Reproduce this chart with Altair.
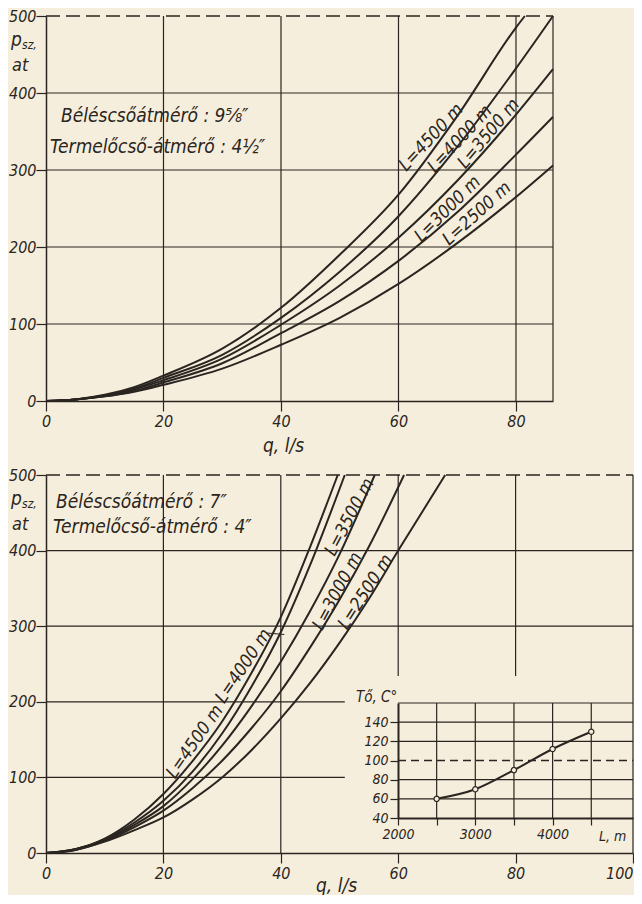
import altair as alt
import pandas as pd

FONT = "Liberation Sans Narrow, Arial Narrow, DejaVu Sans Condensed, sans-serif"
INK = "#2a2520"
BG = "#f6eedc"

curve_names = ["L=4500 m", "L=4000 m", "L=3500 m", "L=3000 m", "L=2500 m"]

# ---------- upper panel: casing 9 5/8", tubing 4 1/2"  (q [l/s] -> p_sz [at])
top_q_4500 = [0, 5, 10, 15, 20, 30, 40, 50, 60, 70, 80, 81.5]
top_p_4500 = [0, 2, 8, 18, 33, 68, 121, 190, 268, 370, 485, 500]
top_q_4000 = [0, 5, 10, 15, 20, 30, 40, 50, 60, 70, 80, 86.3]
top_p_4000 = [0, 2, 7, 16, 30, 60, 108, 168, 240, 330, 432, 500]
top_q_3500 = [0, 5, 10, 15, 20, 30, 40, 50, 60, 70, 80, 86.3]
top_p_3500 = [0, 2, 7, 15, 27, 55, 99, 150, 212, 286, 372, 431]
top_q_3000 = [0, 5, 10, 15, 20, 30, 40, 50, 60, 70, 80, 86.3]
top_p_3000 = [0, 2, 6, 13, 24, 49, 88, 130, 182, 245, 320, 369]
top_q_2500 = [0, 5, 10, 15, 20, 30, 40, 50, 60, 70, 80, 86.3]
top_p_2500 = [0, 2, 6, 12, 21, 42, 73, 108, 152, 205, 265, 306]

# ---------- lower panel: casing 7", tubing 4"
bot_q_4500 = [0, 5, 10, 15, 20, 25, 30, 35, 40, 45, 49.7]
bot_p_4500 = [0, 5, 19, 44, 78, 122, 174, 238, 312, 405, 500]
bot_q_4000 = [0, 5, 10, 15, 20, 25, 30, 35, 40, 45, 50.9]
bot_p_4000 = [0, 5, 18, 40, 69, 108, 158, 220, 292, 381, 500]
bot_q_3500 = [0, 5, 10, 15, 20, 25, 30, 35, 40, 45, 50, 56]
bot_p_3500 = [0, 5, 17, 37, 62, 98, 142, 194, 253, 320, 395, 500]
bot_q_3000 = [0, 5, 10, 15, 20, 25, 30, 35, 40, 45, 50, 55, 61]
bot_p_3000 = [0, 4, 16, 34, 56, 86, 122, 165, 214, 272, 335, 405, 500]
bot_q_2500 = [0, 5, 10, 15, 20, 25, 30, 35, 40, 45, 50, 55, 60, 68]
bot_p_2500 = [0, 4, 15, 30, 47, 71, 100, 136, 178, 225, 278, 336, 400, 500]

# ---------- inset: T_o [C] vs L [m]
inset_L = [2500, 3000, 3500, 4000, 4500]
inset_T = [60, 70, 90, 112, 130]

# ---------- axes / grids (data values)
top_x_ticks = [0, 20, 40, 60, 80]
bot_x_ticks = [0, 20, 40, 60, 80, 100]
y_ticks = [0, 100, 200, 300, 400, 500]
top_q_max = 86.3
top_vgrid = [20, 40, 60, 80]
top_hgrid = [100, 200, 300, 400]
bot_vgrid_full = [20, 40, 100]
bot_vgrid_cut = [60, 80]
bot_vgrid_cut_from = 234
bot_hgrid_full = [300, 400]
bot_hgrid_cut = [100, 200]
bot_hgrid_cut_to = 50.9
inset_L_ticks = [2000, 2500, 3000, 3500, 4000, 4500]
inset_T_ticks = [40, 60, 80, 100, 120, 140]
inset_vgrid = [2500, 3000, 3500, 4000, 4500]
inset_hgrid = [60, 80, 120, 140, 160]
inset_L_dom = [2000, 5040]
inset_T_dom = [40, 160]

# ---------- curve label positions
top_lab_q = [65.6, 70.5, 75.4, 68.4, 73.4]
top_lab_p = [342, 340, 347, 249, 243]
top_lab_angle = [313, 313, 310, 315, 318]
bot_lab_q = [25.4, 33.7, 51.8, 49.7, 54.5]
bot_lab_p = [147, 247, 444, 346, 345]
bot_lab_angle = [305, 304, 298, 298, 303]

TOP_W, TOP_H = 507, 385
BOT_W, BOT_H = 587, 378


def curves_df(qs, ps):
    rows = []
    for name, q, p in zip(curve_names, qs, ps):
        for a, b in zip(q, p):
            rows.append({"L": name, "q": a, "p": b})
    return pd.DataFrame(rows)


top_curves = curves_df([top_q_4500, top_q_4000, top_q_3500, top_q_3000, top_q_2500],
                       [top_p_4500, top_p_4000, top_p_3500, top_p_3000, top_p_2500])
bot_curves = curves_df([bot_q_4500, bot_q_4000, bot_q_3500, bot_q_3000, bot_q_2500],
                       [bot_p_4500, bot_p_4000, bot_p_3500, bot_p_3000, bot_p_2500])

one = pd.DataFrame({"a": [0]})


def txt(text, x, y, size=19, align="left", baseline="middle"):
    return alt.Chart(one).mark_text(
        text=text, font=FONT, fontStyle="italic", fontSize=size, color=INK,
        align=align, baseline=baseline
    ).encode(x=alt.value(x), y=alt.value(y))


def panel(curves, xdom, xticks, title_x, title_y, label_align, vgrid_rows, hgrid_rows, labs, notes):
    xs = alt.Scale(domain=xdom, nice=False, zero=False)
    ys = alt.Scale(domain=[0, 500], nice=False, zero=False)
    ax = alt.Axis(values=xticks, title="q, l/s", titleX=title_x, titleY=title_y,
                  titleBaseline="middle", titleAlign="center", labelPadding=2,
                  labelFlush=False, labelOverlap=False, labelAlign=label_align)
    ay = alt.Axis(values=y_ticks, title=None, labelPadding=0, labelOverlap=False)
    X = lambda f: alt.X(f, scale=xs, axis=ax)
    Y = lambda f: alt.Y(f, scale=ys, axis=ay)

    vg = pd.DataFrame(vgrid_rows, columns=["q", "p0", "p1"])
    hg = pd.DataFrame(hgrid_rows, columns=["p", "q0", "q1"])
    dash = pd.DataFrame({"p": [500], "q0": [0], "q1": [xdom[1]]})

    layers = [
        alt.Chart(vg).mark_rule(color=INK, strokeWidth=1.2).encode(
            x=X("q:Q"), y=Y("p0:Q"), y2="p1"),
        alt.Chart(hg).mark_rule(color=INK, strokeWidth=1.2).encode(
            y=Y("p:Q"), x=X("q0:Q"), x2="q1"),
        alt.Chart(dash).mark_rule(color=INK, strokeWidth=1.3, strokeDash=[14, 6]).encode(
            y=Y("p:Q"), x=X("q0:Q"), x2="q1"),
        alt.Chart(curves).mark_line(color=INK, strokeWidth=2, interpolate="monotone").encode(
            x=X("q:Q"), y=Y("p:Q"), detail="L:N"),
        alt.Chart(labs).mark_text(font=FONT, fontStyle="italic", fontSize=18, color=INK,
                                  align="center", baseline="middle").encode(
            x=X("q:Q"), y=Y("p:Q"), text="L:N", angle=alt.Angle("angle:Q", scale=None)),
        txt("p", -35, 30, 19, baseline="alphabetic"),
        txt("sz,", -24, 33, 12, baseline="alphabetic"),
        txt("at", -34, 55, 18, baseline="alphabetic"),
    ]
    layers += notes
    return layers


# ---- upper panel
top_labs = pd.DataFrame({"L": curve_names, "q": top_lab_q, "p": top_lab_p, "angle": top_lab_angle})
top_layers = panel(
    top_curves, [0, top_q_max], top_x_ticks, 237, 44, "center",
    [(v, 0, 500) for v in top_vgrid] + [(top_q_max, 0, 500)],
    [(h, 0, top_q_max) for h in top_hgrid],
    top_labs,
    [txt("Béléscsőátmérő : 9⅝″", 15, 100, 19),
     txt("Termelőcső-átmérő : 4½″", 4, 131, 19)],
)
top = alt.layer(*top_layers).properties(width=TOP_W, height=TOP_H)

# ---- lower panel
bot_labs = pd.DataFrame({"L": curve_names, "q": bot_lab_q, "p": bot_lab_p, "angle": bot_lab_angle})
leader = pd.DataFrame({"q0": [37.6], "p0": [291], "q1": [40.6], "p1": [289]})
bot_layers = panel(
    bot_curves, [0, 100], bot_x_ticks, 290, 32,
    alt.condition("datum.value == 100", alt.value("right"), alt.value("center")),
    [(v, 0, 500) for v in bot_vgrid_full] + [(v, bot_vgrid_cut_from, 500) for v in bot_vgrid_cut],
    [(h, 0, 100) for h in bot_hgrid_full] + [(h, 0, bot_hgrid_cut_to) for h in bot_hgrid_cut],
    bot_labs,
    [txt("Béléscsőátmérő : 7″", 10, 27, 19),
     txt("Termelőcső-átmérő : 4″", 7, 52, 19),
     txt("Tő, C°", 310, 222, 15)],
)
bxs = alt.Scale(domain=[0, 100], nice=False, zero=False)
bys = alt.Scale(domain=[0, 500], nice=False, zero=False)
bot_layers.append(
    alt.Chart(leader).mark_rule(color=INK, strokeWidth=1.2).encode(
        x=alt.X("q0:Q", scale=bxs), x2="q1", y=alt.Y("p0:Q", scale=bys), y2="p1"))

# ---- inset (own scales placed inside the lower panel)
ixs = alt.Scale(domain=inset_L_dom, range=[352, 587], nice=False, zero=False)
iys = alt.Scale(domain=inset_T_dom, range=[343, 228], nice=False, zero=False)
iax = alt.Axis(orient="bottom", offset=343 - BOT_H, values=inset_L_ticks, format="d",
               labelExpr="datum.value % 1000 == 0 ? datum.label : ''",
               tickSize=7, domainWidth=2, labelFontSize=14, labelPadding=2,
               labelFlush=False, labelOverlap=False, title=None, grid=False)
iay = alt.Axis(orient="left", offset=-352, values=inset_T_ticks, tickSize=8,
               domainWidth=2, labelFontSize=14, labelPadding=2, labelOverlap=False,
               title=None, grid=False)
IX = lambda f: alt.X(f, scale=ixs, axis=iax)
IY = lambda f: alt.Y(f, scale=iys, axis=iay)

ivg = pd.DataFrame({"L": inset_vgrid, "t0": inset_T_dom[0], "t1": inset_T_dom[1]})
ihg = pd.DataFrame({"T": inset_hgrid, "l0": inset_L_dom[0], "l1": inset_L_dom[1]})
idash = pd.DataFrame({"T": [100], "l0": [inset_L_dom[0]], "l1": [inset_L_dom[1]]})
ipts = pd.DataFrame({"L": inset_L, "T": inset_T})
ilab = pd.DataFrame({"L": [4600], "T": [20]})

inset = alt.layer(
    alt.Chart(ivg).mark_rule(color=INK, strokeWidth=1.2).encode(x=IX("L:Q"), y=IY("t0:Q"), y2="t1"),
    alt.Chart(ihg).mark_rule(color=INK, strokeWidth=1.2).encode(y=IY("T:Q"), x=IX("l0:Q"), x2="l1"),
    alt.Chart(idash).mark_rule(color=INK, strokeWidth=1.3, strokeDash=[8, 5]).encode(
        y=IY("T:Q"), x=IX("l0:Q"), x2="l1"),
    alt.Chart(ipts).mark_line(color=INK, strokeWidth=2, interpolate="monotone").encode(
        x=IX("L:Q"), y=IY("T:Q")),
    alt.Chart(ipts).mark_point(shape="circle", size=28, filled=True, fill=BG, stroke=INK,
                               strokeWidth=1.2, opacity=1).encode(x=IX("L:Q"), y=IY("T:Q")),
    alt.Chart(ilab).mark_text(text="L, m", font=FONT, fontStyle="italic", fontSize=14,
                              color=INK, align="left", baseline="middle").encode(
        x=IX("L:Q"), y=IY("T:Q")),
)

bottom = alt.layer(alt.layer(*bot_layers), inset).resolve_scale(
    x="independent", y="independent").properties(width=BOT_W, height=BOT_H)

chart = alt.vconcat(top, bottom, spacing=74, bounds="flush").properties(
    padding={"left": 0, "top": 0, "right": 0, "bottom": 0}
).configure(background=BG, font=FONT).configure_view(stroke=None).configure_axis(
    labelFont=FONT, labelFontSize=16, labelFontStyle="italic", labelColor=INK,
    titleFont=FONT, titleFontSize=19, titleFontStyle="italic", titleFontWeight="normal",
    titleColor=INK, tickColor=INK, tickSize=10, tickWidth=1.2, domainColor=INK,
    domainWidth=1.5, grid=False
)

chart.save("out.html", embed_options={"renderer": "svg", "actions": False})
